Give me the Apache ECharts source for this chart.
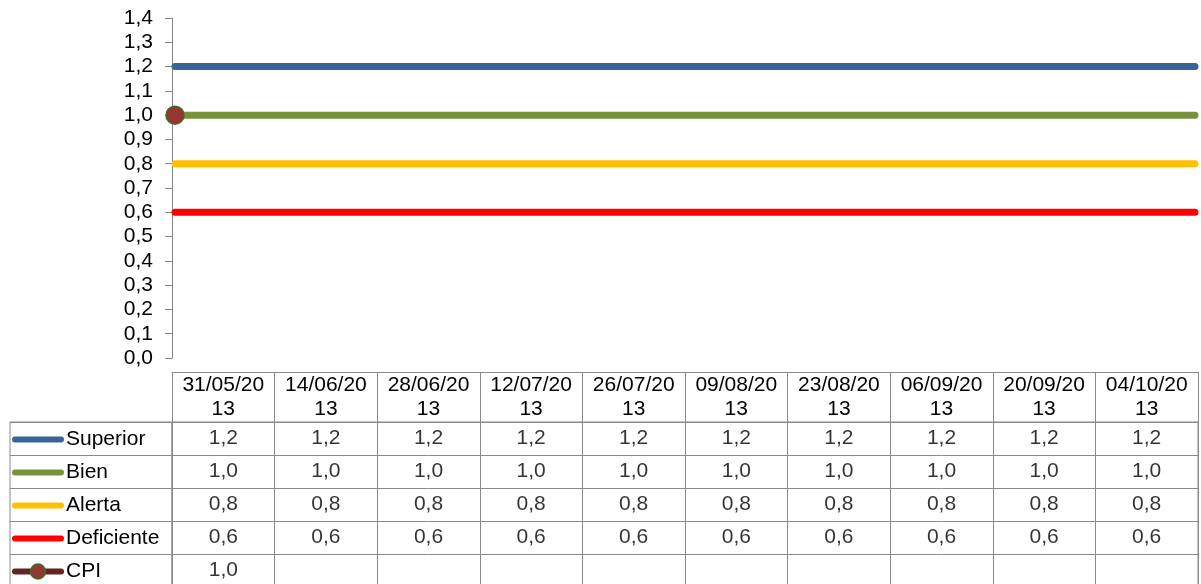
<!DOCTYPE html>
<html>
<head>
<meta charset="utf-8">
<script src="https://cdn.jsdelivr.net/npm/echarts@6/dist/echarts.min.js"></script>
<style>
  html, body { margin: 0; padding: 0; background: #fff; }
  #chart { width: 1201px; height: 584px; }
</style>
</head>
<body>
<div id="chart"></div>
<script>
// data
var dates = ['31/05/2013', '14/06/2013', '28/06/2013', '12/07/2013', '26/07/2013',
             '09/08/2013', '23/08/2013', '06/09/2013', '20/09/2013', '04/10/2013'];
var superior   = [1.2, 1.2, 1.2, 1.2, 1.2, 1.2, 1.2, 1.2, 1.2, 1.2];
var bien       = [1.0, 1.0, 1.0, 1.0, 1.0, 1.0, 1.0, 1.0, 1.0, 1.0];
var alerta     = [0.8, 0.8, 0.8, 0.8, 0.8, 0.8, 0.8, 0.8, 0.8, 0.8];
var deficiente = [0.6, 0.6, 0.6, 0.6, 0.6, 0.6, 0.6, 0.6, 0.6, 0.6];
var cpi        = [1.0, null, null, null, null, null, null, null, null, null];
var rowNames = ['Superior', 'Bien', 'Alerta', 'Deficiente', 'CPI'];
var yTicks = { min: 0, max: 1.4, step: 0.1 };

var FONT = 'Liberation Sans, Arial, sans-serif';
var FS = 21;
var GRID_LINE = '#8a8a8a';

function fmt(v) {
  return Number(v).toFixed(1).replace('.', ',');
}

var rows = [superior, bien, alerta, deficiente, cpi];
var cells = [];
rows.forEach(function (arr, r) {
  arr.forEach(function (v, i) {
    if (v != null) cells.push([dates[i], rowNames[r], v]);
  });
});

function flatLine(name, data, color) {
  return {
    name: name,
    type: 'line',
    xAxisIndex: 0,
    yAxisIndex: 0,
    data: data,
    symbol: 'none',
    lineStyle: { color: color, width: 7, cap: 'round' },
    itemStyle: { color: color },
    silent: true
  };
}

// legend entries: plain thick line for the limits, line + marker for CPI
var legendData = rowNames.map(function (n) {
  if (n === 'CPI') return { name: n };
  return { name: n, itemStyle: { color: 'rgba(0,0,0,0)', borderWidth: 0 } };
});

var myChart = echarts.init(document.getElementById('chart'));
myChart.setOption({
  animation: false,
  textStyle: { fontFamily: FONT },
  legend: {
    data: legendData,
    orient: 'vertical',
    left: 12,
    top: 429,
    height: 200,
    padding: 0,
    itemWidth: 46,
    itemHeight: 18,
    itemGap: 12,
    selectedMode: false,
    lineStyle: { width: 6, cap: 'round' },
    textStyle: { fontSize: FS, color: '#000' }
  },
  grid: [
    // plot area
    { left: 175, right: 6, top: 18, height: 340, outerBoundsMode: 'none' },
    // table body
    { left: 172, right: 3, top: 422, height: 165, show: true, borderColor: GRID_LINE, borderWidth: 1, outerBoundsMode: 'none' },
    // left column of the table
    { left: 10, width: 162, top: 422, height: 165, show: true, borderColor: GRID_LINE, borderWidth: 1, outerBoundsMode: 'none' }
  ],
  xAxis: [
    { gridIndex: 0, type: 'category', data: dates, boundaryGap: false, show: false },
    {
      gridIndex: 1, type: 'category', data: dates, position: 'top',
      axisLine: { show: true, lineStyle: { color: GRID_LINE, width: 1 } },
      axisTick: { show: true, interval: 0, length: 50, lineStyle: { color: GRID_LINE, width: 1 } },
      axisLabel: {
        interval: 0, margin: 1, color: '#000', fontSize: FS, lineHeight: 24,
        formatter: function (v) { return v.slice(0, 8) + '\n' + v.slice(8); }
      },
      splitLine: { show: true, interval: 0, lineStyle: { color: GRID_LINE, width: 1 } }
    },
    {
      gridIndex: 1, type: 'category', data: dates, position: 'top', offset: 50,
      axisLine: { show: true, lineStyle: { color: GRID_LINE, width: 1 } },
      axisTick: { show: false }, axisLabel: { show: false }, splitLine: { show: false }
    },
    { gridIndex: 2, type: 'category', data: [''], show: false }
  ],
  yAxis: [
    {
      gridIndex: 0, type: 'value', min: yTicks.min, max: yTicks.max, interval: yTicks.step,
      offset: 3,
      axisLine: { show: true, lineStyle: { color: '#868686', width: 1 } },
      axisTick: { show: true, length: 7, lineStyle: { color: '#868686' } },
      axisLabel: { margin: 19, color: '#000', fontSize: FS, formatter: fmt },
      splitLine: { show: false }
    },
    {
      gridIndex: 1, type: 'category', data: rowNames, inverse: true,
      axisLine: { show: true, lineStyle: { color: GRID_LINE, width: 1 } },
      axisTick: { show: true, interval: 0, length: 162, lineStyle: { color: GRID_LINE, width: 1 } },
      axisLabel: { show: false },
      splitLine: { show: true, interval: 0, lineStyle: { color: GRID_LINE, width: 1 } }
    },
    { gridIndex: 2, type: 'category', data: rowNames, inverse: true, show: false }
  ],
  series: [
    flatLine('Superior', superior, '#3b6496'),
    flatLine('Bien', bien, '#77933c'),
    flatLine('Alerta', alerta, '#ffc000'),
    flatLine('Deficiente', deficiente, '#ff0000'),
    {
      name: 'CPI',
      type: 'line',
      xAxisIndex: 0,
      yAxisIndex: 0,
      data: cpi,
      symbol: 'circle',
      symbolSize: 18,
      showSymbol: true,
      lineStyle: { color: '#632523', width: 6, cap: 'round' },
      itemStyle: { color: '#943634', borderColor: '#4f6228', borderWidth: 1.5 },
      z: 5,
      silent: true
    },
    {
      name: 'table',
      type: 'scatter',
      xAxisIndex: 1,
      yAxisIndex: 1,
      data: cells,
      symbolSize: 1,
      itemStyle: { color: 'rgba(0,0,0,0)' },
      label: {
        show: true, position: 'inside', color: '#000', fontSize: FS,
        formatter: function (p) { return fmt(p.value[2]); }
      },
      silent: true
    }
  ]
});
window.addEventListener('resize', function () {
  myChart.resize();
});
</script>
</body>
</html>
